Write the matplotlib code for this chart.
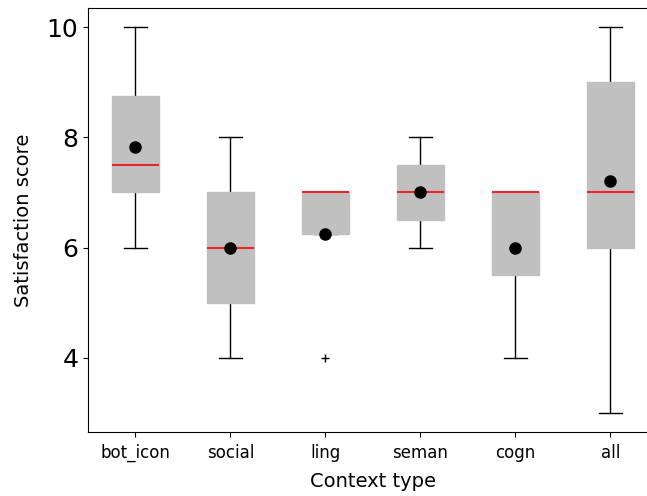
import matplotlib.pyplot as plt

# Data (box statistics)
contexts = ["bot_icon", "social", "ling", "seman", "cogn", "all"]
whislo = [6, 4, 6.25, 6, 4, 3]
q1 = [7, 5, 6.25, 6.5, 5.5, 6]
medians = [7.5, 6, 7, 7, 7, 7]
q3 = [8.75, 7, 7, 7.5, 7, 9]
whishi = [10, 8, 7, 8, 7, 10]
means = [7.83, 6, 6.25, 7, 6, 7.2]
fliers = [[], [], [4], [], [], []]

stats = []
for i, name in enumerate(contexts):
    stats.append({
        "label": name, "whislo": whislo[i], "q1": q1[i], "med": medians[i],
        "q3": q3[i], "whishi": whishi[i], "mean": means[i], "fliers": fliers[i],
    })

# Plot
fig = plt.figure(figsize=(6.47, 4.96), dpi=100)
ax = fig.add_axes([0.136, 0.129, 0.881, 0.855])
ax.bxp(stats, showmeans=True, patch_artist=True, widths=0.5,
       boxprops=dict(facecolor="#c0c0c0", edgecolor="#c0c0c0", zorder=3),
       medianprops=dict(color="#e8262a", linewidth=1.5, zorder=4),
       whiskerprops=dict(color="black", linewidth=1),
       capprops=dict(color="black", linewidth=1),
       meanprops=dict(marker="o", markerfacecolor="black", markeredgecolor="black",
                      markersize=8, zorder=5),
       flierprops=dict(marker="+", markeredgecolor="black", markersize=6))

# Formatting
ax.set_xlim(0.5, 6.5)
ax.set_ylim(2.65, 10.35)
ax.set_yticks([4, 6, 8, 10])
ax.tick_params(axis="y", labelsize=18)
ax.tick_params(axis="x", labelsize=12, pad=5)
ax.set_xlabel("Context type", fontsize=14, labelpad=7)
ax.set_ylabel("Satisfaction score", fontsize=14, labelpad=10)

plt.savefig("out.png", dpi=100)
